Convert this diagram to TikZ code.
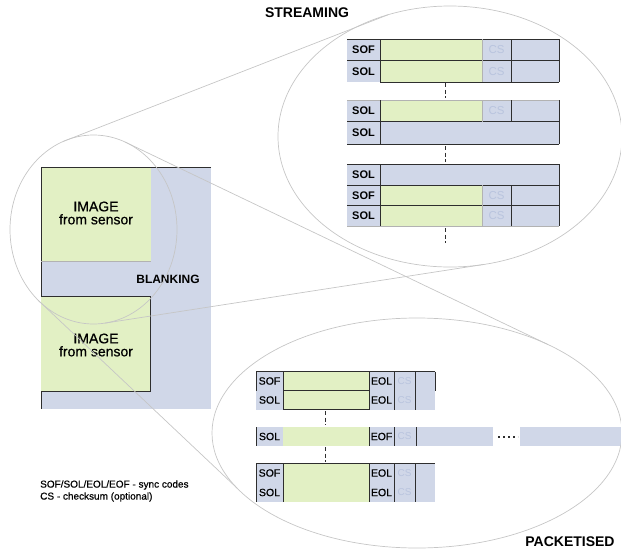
\documentclass[tikz,border=0pt]{standalone}
\usepackage{fontspec}
\setmainfont{Liberation Sans}
\newfontfamily\medfont[FakeBold=0.6]{Liberation Sans}
\usetikzlibrary{shapes.geometric}

\definecolor{imggreen}{HTML}{E2F0C4}
\definecolor{blankblue}{HTML}{D0D7E8}
\definecolor{csgrey}{HTML}{B9C4DE}
\definecolor{lensgrey}{HTML}{C6C6C6}
\definecolor{rulegrey}{HTML}{2E2E2E}

\begin{document}
\begin{tikzpicture}
[x=1pt,y=-1pt,
 rule/.style={draw=rulegrey,line width=0.9pt},
 faint/.style={draw=gray!60,line width=0.5pt},
 gapline/.style={draw=rulegrey,line width=0.8pt,dash pattern=on 4pt off 2.5pt},
 lens/.style={draw=lensgrey,line width=0.7pt,ellipse,inner sep=0pt,outer sep=0pt},
 lensline/.style={draw=lensgrey,line width=0.7pt},
 sync/.style={font=\fontsize{11}{11}\selectfont\bfseries,inner sep=0pt},
 psync/.style={font=\fontsize{10.5}{10.5}\selectfont\medfont,inner sep=0pt},
 csum/.style={font=\fontsize{11.5}{11.5}\selectfont,text=csgrey,inner sep=0pt},
 pcsum/.style={font=\fontsize{10}{10}\selectfont,text=csgrey,inner sep=0pt},
 heading/.style={font=\fontsize{14}{14}\selectfont\bfseries,inner sep=0pt},
 imagetext/.style={font=\fontsize{14}{13}\selectfont\medfont,align=center,inner sep=0pt},
]
\useasboundingbox (0,0) rectangle (621,554);

% sensor frame
\fill[blankblue] (41,167) rectangle (211,409);
\fill[imggreen] (41,167) rectangle (151,261);
\fill[imggreen] (41,296) rectangle (150,391);
\draw[rule] (211,167) -- (41,167) -- (41,296) -- (150,296) -- (150,391) -- (41,391) -- (41,409);
\draw[faint] (41,261) -- (151,261);
\node[imagetext] (image1) at (96,213) {IMAGE\\from sensor};
\node[imagetext] (image2) at (96,345) {IMAGE\\from sensor};
\node[font=\fontsize{12}{12}\selectfont\bfseries,inner sep=0pt] (blanking) at (168,279) {BLANKING};

% streaming
\def \sxa {347}
\def \sxb {380}
\def \sxc {482}
\def \sxd {511}
\def \sxe {559}
\foreach \ya/\yb/\code/\data [count=\r] in
  {39/60.5/SOF/1, 60.5/82/SOL/1, 100/121.5/SOL/1, 121.5/144/SOL/0,
   164/185/SOL/0, 185/205.5/SOF/1, 205.5/226/SOL/1}
{
  \fill[blankblue] (\sxa,\ya) rectangle (\sxe,\yb);
  \ifnum\data=1
    \fill[imggreen] (\sxb,\ya) rectangle (\sxc,\yb);
    \node[csum] (scs\r) at (496.5,{(\ya+\yb)/2}) {CS};
  \fi
  \node[sync] (ssync\r) at (363.5,{(\ya+\yb)/2}) {\code};
}
\draw[rule] (\sxa,39) -- (\sxe,39) (\sxa,60.5) -- (\sxe,60.5) (\sxb,82) -- (\sxe,82)
  (\sxb,39) -- (\sxb,82) (\sxd,39) -- (\sxd,82) (\sxe,39) -- (\sxe,82);
\draw[faint] (\sxc,39) -- (\sxc,82) (\sxa,100) -- (\sxe,100);
\draw[rule] (\sxa,121.5) -- (\sxe,121.5) (\sxa,144) -- (\sxe,144)
  (\sxb,100) -- (\sxb,144) (\sxd,100) -- (\sxd,121.5) (\sxe,100) -- (\sxe,144);
\draw[faint] (\sxc,100) -- (\sxc,121.5);
\draw[rule] (\sxa,164) -- (\sxe,164) (\sxa,185) -- (\sxe,185) (\sxa,205.5) -- (\sxe,205.5)
  (\sxb,164) -- (\sxb,226) (\sxd,185) -- (\sxd,226) (\sxe,164) -- (\sxe,226);
\draw[faint] (\sxc,185) -- (\sxc,226) (\sxa,226) -- (\sxe,226);
\draw[gapline] (445,83) -- (445,98);
\draw[gapline] (445,146) -- (445,162);
\draw[gapline] (445,228) -- (445,243);
\node[heading] (streaming) at (307,13) {STREAMING};

% packetised
\def \pxa {256}
\def \pxb {283}
\def \pxc {369}
\def \pxd {394}
\def \pxe {415}
\def \pxf {435}
\fill[blankblue] (\pxa,427) rectangle (493,446);
\fill[blankblue] (520,427) rectangle (621,446);
\foreach \ya/\yb/\code/\ecode [count=\r] in
  {371.5/390.5/SOF/EOL, 390.5/409.5/SOL/EOL, 427/446/SOL/EOF,
   463/483/SOF/EOL, 483/502/SOL/EOL}
{
  \fill[blankblue] (\pxa,\ya) rectangle (\pxf,\yb);
  \fill[imggreen] (\pxb,\ya) rectangle (\pxc,\yb);
  \node[psync] (psync\r) at (269.5,{(\ya+\yb)/2}) {\code};
  \node[psync] (pend\r) at (381.5,{(\ya+\yb)/2}) {\ecode};
  \node[pcsum] (pcs\r) at (404.5,{(\ya+\yb)/2}) {CS};
}
\fill[blankblue] (\pxe,427) rectangle (\pxf,446);
\draw[rule] (\pxa,371.5) -- (\pxf,371.5) (\pxb,390.5) -- (\pxc,390.5) (\pxb,409.5) -- (\pxc,409.5)
  (\pxa,371.5) -- (\pxa,390.5) (\pxb,371.5) -- (\pxb,409.5) (\pxc,371.5) -- (\pxc,409.5)
  (\pxd,371.5) -- (\pxd,409.5) (\pxe,371.5) -- (\pxe,409.5) (\pxf,371.5) -- (\pxf,390.5);
\draw[rule] (\pxa,427) -- (\pxa,446) (\pxc,427) -- (\pxc,446) (\pxd,427) -- (\pxd,446)
  (416,427) -- (416,446);
\draw[rule] (\pxa,463) -- (\pxf,463) (\pxa,463) -- (\pxa,502) (\pxb,463) -- (\pxb,502)
  (\pxc,463) -- (\pxc,502) (\pxd,463) -- (\pxd,502) (\pxe,463) -- (\pxe,502);
\draw[rulegrey,line width=1.4pt,dash pattern=on 2pt off 3pt] (498,437) -- (518,437);
\draw[gapline] (325,411) -- (325,425);
\draw[gapline] (325,447) -- (325,462);
\node[heading] (packetised) at (570,542) {PACKETISED};

% legend
\node[font=\fontsize{10}{12}\selectfont\medfont,align=left,anchor=west,inner sep=0pt] (legend) at (40,491)
  {SOF/SOL/EOL/EOF - sync codes\\CS - checksum (optional)};

% magnifier
\node[lens,minimum width=167pt,minimum height=189pt] (zoomlens) at (93.5,229.5) {};
\node[lens,minimum width=344pt,minimum height=261pt] (streamlens) at (450,136.5) {};
\node[lens,minimum width=410pt,minimum height=230pt] (packetlens) at (417,433) {};
\draw[lensline] (zoomlens.109) -- (streamlens.117);
\draw[lensline] (zoomlens.-83) -- (streamlens.-75.5);
\draw[lensline] (zoomlens.70) -- (packetlens.34);
\draw[lensline] (zoomlens.-128) -- (packetlens.197);
\end{tikzpicture}
\end{document}
